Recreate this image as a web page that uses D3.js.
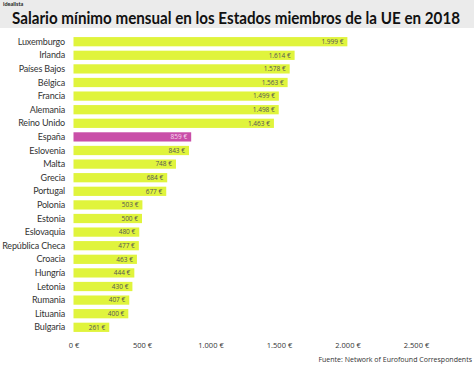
<!DOCTYPE html>
<html><head><meta charset="utf-8">
<script src="https://cdn.jsdelivr.net/npm/d3@7"></script>
<style>body{margin:0;background:#fff;} svg{display:block;}</style>
</head><body>
<svg id="c" width="474" height="366"></svg>
<script>
const countries = ["Luxemburgo","Irlanda","Países Bajos","Bélgica","Francia","Alemania","Reino Unido","España","Eslovenia","Malta","Grecia","Portugal","Polonia","Estonia","Eslovaquia","República Checa","Croacia","Hungría","Letonia","Rumania","Lituania","Bulgaria"];
const salaries = [1999,1614,1578,1563,1499,1498,1463,859,843,748,684,677,503,500,480,477,463,444,430,407,400,261];
const tickValues = [0,500,1000,1500,2000,2500];
const highlight = "España";

const data = countries.map((c,i)=>({c, v: salaries[i]}));
const svg = d3.select("#c");
const fmt = v => {
  const s = String(v);
  return (s.length > 3 ? s.slice(0, s.length-3) + "." + s.slice(-3) : s) + " €";
};

// header
svg.append("rect").attr("x",0).attr("y",0).attr("width",474).attr("height",28).attr("fill","#ebebeb");
svg.append("text").attr("x",3).attr("y",6).attr("font-family","Lato, sans-serif").attr("font-size",5.5).attr("font-weight","bold").attr("fill","#222").text("idealista");
const title = svg.append("text").attr("x",12).attr("y",23.5).attr("font-family","Lato, sans-serif").attr("font-size",18).attr("font-weight","bold").attr("fill","#111").text("Salario mínimo mensual en los Estados miembros de la UE en 2018");
const tw = title.node().getComputedTextLength();
let fs = 18 * 448 / tw;
if (fs > 18) fs = 18;
if (fs < 17) { fs = 17; title.attr("font-size", fs); title.attr("textLength",448).attr("lengthAdjust","spacingAndGlyphs"); }
else title.attr("font-size", fs);

const x = d3.scaleLinear().domain([0,2500]).range([73.5,416]);
const y = d3.scaleBand().domain(countries).range([34.9,334.1]).paddingInner(0.32).paddingOuter(0.16);

svg.append("g").selectAll("rect").data(data).join("rect")
  .attr("x", x(0)).attr("y", d=>y(d.c)).attr("width", d=>x(d.v)-x(0)).attr("height", y.bandwidth())
  .attr("fill", d=> d.c===highlight ? "#c94fa8" : "#e0f43c");

svg.append("g").selectAll("text").data(data).join("text")
  .attr("x", d=>x(d.v)-4).attr("y", d=>y(d.c)+y.bandwidth()/2).attr("dy","0.35em")
  .attr("text-anchor","end").attr("font-family","'Open Sans', sans-serif").attr("font-size",6.5)
  .attr("fill", d=> d.c===highlight ? "#f6dbef" : "#555")
  .text(d=>fmt(d.v));

svg.append("g").selectAll("text").data(data).join("text")
  .attr("x", 65).attr("y", d=>y(d.c)+y.bandwidth()/2).attr("dy","0.35em")
  .attr("text-anchor","end").attr("font-family","Lato, sans-serif").attr("font-size",9)
  .attr("letter-spacing","-0.15").attr("fill","#333").text(d=>d.c);

const ax = d3.axisBottom(x).tickValues(tickValues).tickFormat(fmt).tickSize(0);
const g = svg.append("g").attr("transform","translate(0,340)").call(ax);
g.select(".domain").remove();
g.selectAll("text").attr("font-family","'Open Sans', sans-serif").attr("font-size",7.5).attr("fill","#333");

svg.append("text").attr("x",472).attr("y",362).attr("text-anchor","end").attr("font-family","'Open Sans', sans-serif").attr("font-size",7).attr("fill","#333").text("Fuente: Network of Eurofound Correspondents");
</script>
</body></html>
